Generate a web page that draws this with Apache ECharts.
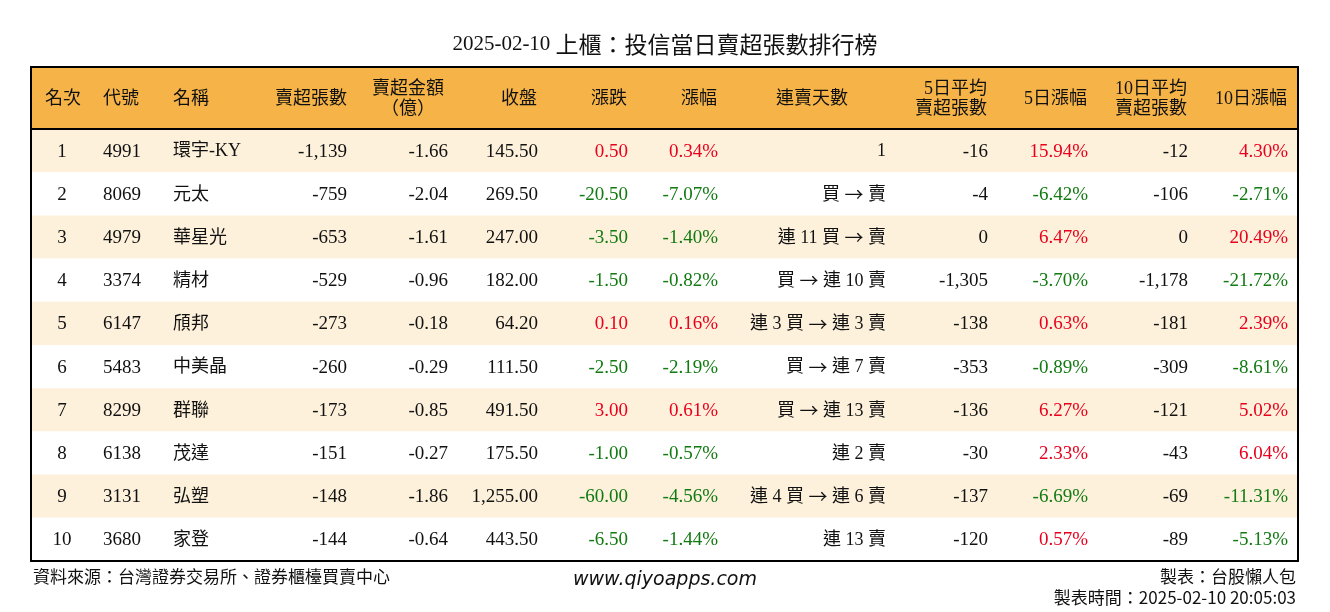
<!DOCTYPE html>
<html>
<head>
<meta charset="utf-8">
<script src="https://cdn.jsdelivr.net/npm/echarts@6/dist/echarts.min.js"></script>
<style>
html,body{margin:0;padding:0;background:#fff;}
#c{width:1330px;height:612px;}
</style>
</head>
<body>
<div id="c"></div>
<script>
// ---- data ----
const ranks   = [1,2,3,4,5,6,7,8,9,10];
const codes   = ['4991','8069','4979','3374','6147','5483','8299','6138','3131','3680'];
const names   = ['環宇-KY','元太','華星光','精材','頎邦','中美晶','群聯','茂達','弘塑','家登'];
const sellVol = [-1139,-759,-653,-529,-273,-260,-173,-151,-148,-144];
const sellAmt = [-1.66,-2.04,-1.61,-0.96,-0.18,-0.29,-0.85,-0.27,-1.86,-0.64];
const closes  = [145.50,269.50,247.00,182.00,64.20,111.50,491.50,175.50,1255.00,443.50];
const changes = [0.50,-20.50,-3.50,-1.50,0.10,-2.50,3.00,-1.00,-60.00,-6.50];
const pcts    = [0.34,-7.07,-1.40,-0.82,0.16,-2.19,0.61,-0.57,-4.56,-1.44];
const streaks = ['1','買 → 賣','連 11 買 → 賣','買 → 連 10 賣','連 3 買 → 連 3 賣','買 → 連 7 賣','買 → 連 13 賣','連 2 賣','連 4 買 → 連 6 賣','連 13 賣'];
const avg5    = [-16,-4,0,-1305,-138,-353,-136,-30,-137,-120];
const pct5    = [15.94,-6.42,6.47,-3.70,0.63,-0.89,6.27,2.33,-6.69,0.57];
const avg10   = [-12,-106,0,-1178,-181,-309,-121,-43,-69,-89];
const pct10   = [4.30,-2.71,20.49,-21.72,2.39,-8.61,5.02,6.04,-11.31,-5.13];
const headers = ['名次','代號','名稱','賣超張數','賣超金額\n（億）','收盤','漲跌','漲幅','連賣天數','5日平均\n賣超張數','5日漲幅','10日平均\n賣超張數','10日漲幅'];
const titleDate = '2025-02-10';
const titleText = '上櫃：投信當日賣超張數排行榜';

// ---- layout ----
const T = {left:31, top:67, right:1298, headBottom:129, bottom:561};
const colX     = [62, 103, 173, 347, 448, 538, 628, 718, 886, 988, 1088, 1188, 1288];
const colAlign = ['center','left','left','right','right','right','right','right','right','right','right','right','right'];
const hdrX     = [63, 103, 173, 347, 408, 537, 627, 717, 812, 987, 1087, 1187, 1287];
const hdrAlign = ['center','left','left','right','center','right','right','right','center','right','right','right','right'];
const RED = '#e8001c', GREEN = '#117a11', BLACK = '#111';
const FONT = "19px 'Liberation Serif','Noto Sans CJK TC',serif";
const CJK_FONT = "18px 'Liberation Serif','Noto Sans CJK TC',serif";
const ARROW_FONT = "19px 'Noto Sans CJK TC',sans-serif";

function fmtInt(v){ return v.toLocaleString('en-US'); }
function fmt2(v){ return v.toLocaleString('en-US',{minimumFractionDigits:2,maximumFractionDigits:2}); }
function col(v){ return v>0?RED:(v<0?GREEN:BLACK); }

function rowCells(i){
  return [
    [String(ranks[i]), BLACK, FONT],
    [codes[i], BLACK, FONT],
    [names[i], BLACK, CJK_FONT],
    [fmtInt(sellVol[i]), BLACK, FONT],
    [fmt2(sellAmt[i]), BLACK, FONT],
    [fmt2(closes[i]), BLACK, FONT],
    [fmt2(changes[i]), col(changes[i]), FONT],
    [fmt2(pcts[i])+'%', col(pcts[i]), FONT],
    [streaks[i], BLACK, CJK_FONT, true],
    [fmtInt(avg5[i]), BLACK, FONT],
    [fmt2(pct5[i])+'%', col(pct5[i]), FONT],
    [fmtInt(avg10[i]), BLACK, FONT],
    [fmt2(pct10[i])+'%', col(pct10[i]), FONT]
  ];
}

const chart = echarts.init(document.getElementById('c'), null, {renderer:'canvas'});

const graphics = [];
graphics.push({type:'rect', shape:{x:T.left, y:T.top, width:T.right-T.left, height:T.headBottom-T.top}, style:{fill:'#F6B448'}, z:0});
headers.forEach((h,k)=>{
  graphics.push({type:'text', z:5, style:{text:h, x:hdrX[k], y:(T.top+T.headBottom)/2+1, textAlign:hdrAlign[k], textVerticalAlign:'middle',
    font:"18px 'Liberation Serif','Noto Sans CJK TC',serif", fill:BLACK, lineHeight:20}});
});
graphics.push({type:'rect', z:10, shape:{x:T.left, y:T.top, width:T.right-T.left, height:T.bottom-T.top}, style:{fill:null, stroke:'#000', lineWidth:2}});
graphics.push({type:'line', z:10, shape:{x1:T.left, y1:T.headBottom, x2:T.right, y2:T.headBottom}, style:{stroke:'#000', lineWidth:2}});
const FOOT = "17px 'Noto Sans CJK TC',sans-serif";
graphics.push({type:'text', style:{text:'資料來源：台灣證券交易所、證券櫃檯買賣中心', x:33, y:577, textVerticalAlign:'middle', font:FOOT, fill:'#111'}});
graphics.push({type:'text', style:{text:'www.qiyoapps.com', x:665, y:580, textAlign:'center', textVerticalAlign:'middle', font:"italic 19px 'DejaVu Sans','Noto Sans',sans-serif", fill:'#111'}});
graphics.push({type:'text', style:{text:'製表：台股懶人包', x:1296, y:577, textAlign:'right', textVerticalAlign:'middle', font:FOOT, fill:'#111'}});
graphics.push({type:'text', style:{text:'製表時間：2025-02-10 20:05:03', x:1296, y:598, textAlign:'right', textVerticalAlign:'middle', font:FOOT, fill:'#111'}});

chart.setOption({
  animation:false,
  backgroundColor:'#fff',
  title:{text:'{a|'+titleDate+' }{b|'+titleText+'}', left:'center', top:28,
    textStyle:{fontWeight:'normal', rich:{
      a:{fontFamily:"'Liberation Serif',serif", fontSize:21, fontWeight:'normal', color:'#111'},
      b:{fontFamily:"'Noto Sans CJK TC',sans-serif", fontSize:23, fontWeight:'normal', color:'#111'}
    }}},
  grid:{left:T.left, right:1330-T.right, top:T.headBottom, bottom:612-T.bottom},
  xAxis:{type:'value', min:0, max:1, show:false},
  yAxis:{type:'category', data:ranks.map(String), inverse:true, show:false},
  graphic:graphics,
  series:[{
    type:'custom',
    data:ranks.map((r,i)=>[0,i]),
    encode:{x:0,y:1},
    renderItem:function(params, api){
      const i = api.value(1);
      const cs = params.coordSys;
      const cy = api.coord([0,i])[1];
      const h = api.size([0,1])[1];
      const children = [{type:'rect', shape:{x:cs.x, y:cy-h/2, width:cs.width, height:h}, style:{fill: i%2===0 ? '#FDF1DC' : '#FFFFFF'}}];
      rowCells(i).forEach((c,k)=>{
        const st = {text:c[0], x:colX[k], y:cy+1, textAlign:colAlign[k], textVerticalAlign:'middle', font:c[2], fill:c[1]};
        if (c[3]) {
          st.text = c[0].split('→').map(s=>'{t|'+s+'}').join('{arr|→}');
          st.rich = {t:{font:c[2], fill:c[1]}, arr:{font:ARROW_FONT, fill:c[1]}};
        }
        children.push({type:'text', style:st});
      });
      return {type:'group', children};
    }
  }]
});
</script>
</body>
</html>
